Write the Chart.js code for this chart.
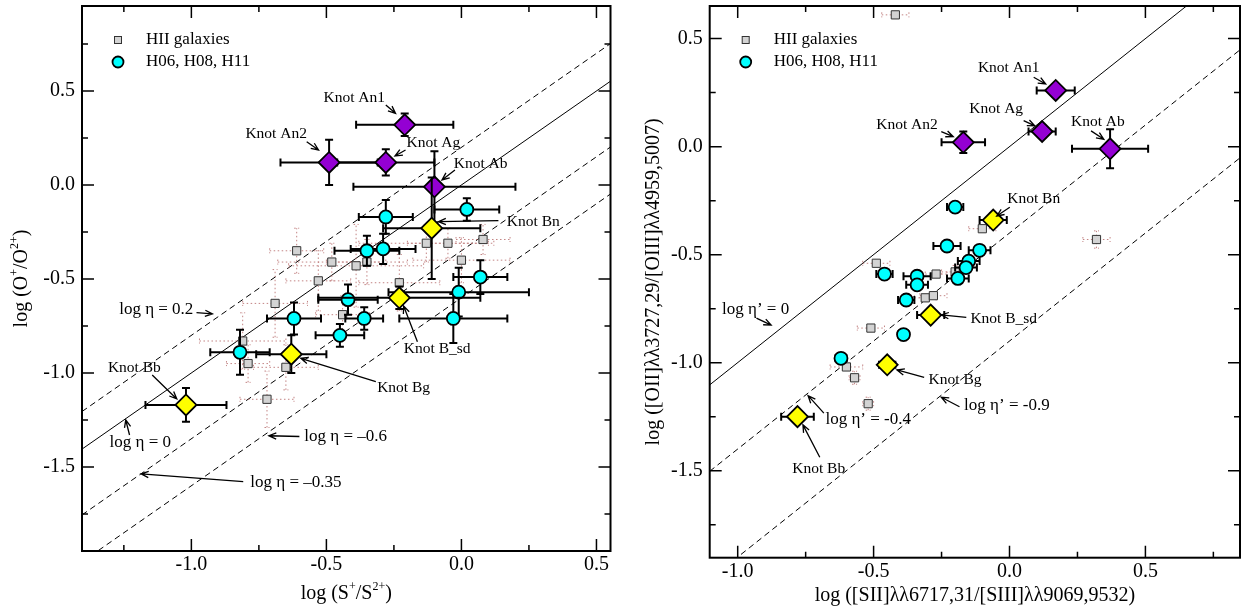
<!DOCTYPE html>
<html>
<head>
<meta charset="utf-8">
<script src="https://cdn.jsdelivr.net/npm/chart.js@4.4.1/dist/chart.umd.min.js"></script>
<style>
    html, body { margin: 0; padding: 0; background: #fff; }
    #wrap { position: relative; width: 1246px; height: 609px; overflow: hidden; }
    #leftChart { position: absolute; left: 0; top: 0; }
    #rightChart { position: absolute; left: 622px; top: 0; }
</style>
</head>
<body>
<div id="wrap">
    <canvas id="leftChart" width="620" height="609"></canvas>
    <canvas id="rightChart" width="624" height="609"></canvas>
</div>
<script>
// knots: An1, An2, Ag, Ab are region A (purple), Bn, B_sd, Bg, Bb region B (yellow)
const knotNames = ['Knot An1', 'Knot An2', 'Knot Ag', 'Knot Ab', 'Knot Bn', 'Knot B_sd', 'Knot Bg', 'Knot Bb'];
const knotRegion = ['A', 'A', 'A', 'A', 'B', 'B', 'B', 'B'];

// ---- left panel: log(O+/O2+) vs log(S+/S2+) ----
const leftKnotX = [-0.21, -0.49, -0.28, -0.10, -0.11, -0.23, -0.63, -1.02];
const leftKnotY = [0.32, 0.12, 0.12, -0.01, -0.23, -0.60, -0.90, -1.17];
const leftKnotXErr = [0.18, 0.18, 0.18, 0.30, 0.18, 0.30, 0.13, 0.15];
const leftKnotYErr = [0.06, 0.12, 0.07, 0.19, 0.27, 0.06, 0.10, 0.09];

const leftH06X = [-0.28, 0.02, -0.35, -0.29, 0.07, -0.01, -0.03, -0.42, -0.62, -0.36, -0.45, -0.82];
const leftH06Y = [-0.17, -0.13, -0.35, -0.34, -0.49, -0.57, -0.71, -0.61, -0.71, -0.71, -0.80, -0.89];
const leftH06XErr = [0.10, 0.12, 0.12, 0.12, 0.10, 0.26, 0.20, 0.11, 0.10, 0.07, 0.09, 0.11];
const leftH06YErr = [0.09, 0.06, 0.08, 0.08, 0.09, 0.13, 0.13, 0.08, 0.085, 0.06, 0.06, 0.12];

const leftHiiX = [-0.61, -0.48, -0.39, -0.35, -0.13, -0.05, 0.08, 0.00, -0.53, -0.23, -0.69, -0.44, -0.81, -0.79, -0.65, -0.72];
const leftHiiY = [-0.35, -0.41, -0.43, -0.41, -0.31, -0.31, -0.29, -0.40, -0.51, -0.52, -0.63, -0.69, -0.83, -0.95, -0.97, -1.14];
const leftHiiXErr = [0.10, 0.20, 0.25, 0.15, 0.25, 0.15, 0.10, 0.18, 0.12, 0.15, 0.12, 0.10, 0.16, 0.08, 0.12, 0.10];
const leftHiiYErr = [0.12, 0.10, 0.22, 0.12, 0.10, 0.08, 0.08, 0.12, 0.16, 0.15, 0.18, 0.10, 0.15, 0.10, 0.12, 0.15];

const leftEta = [0.2, 0, -0.35, -0.6];
const leftXTicks = [-1.0, -0.5, 0.0, 0.5];
const leftYTicks = [-1.5, -1.0, -0.5, 0.0, 0.5];

// ---- right panel: log([OII]/[OIII]) vs log([SII]/[SIII]) ----
const rightKnotX = [0.17, -0.17, 0.12, 0.37, -0.06, -0.29, -0.45, -0.78];
const rightKnotY = [0.26, 0.02, 0.07, -0.01, -0.34, -0.78, -1.01, -1.25];
const rightKnotXErr = [0.07, 0.08, 0.05, 0.14, 0.05, 0.05, 0.03, 0.06];
const rightKnotYErr = [0.03, 0.05, 0.03, 0.09, 0.03, 0.02, 0.02, 0.02];

const rightH06X = [-0.20, -0.23, -0.11, -0.15, -0.16, -0.46, -0.34, -0.34, -0.19, -0.38, -0.39, -0.62];
const rightH06Y = [-0.28, -0.46, -0.48, -0.53, -0.56, -0.59, -0.60, -0.64, -0.61, -0.71, -0.87, -0.98];
const rightH06XErr = [0.03, 0.05, 0.04, 0.04, 0.04, 0.03, 0.05, 0.04, 0.04, 0.03, 0.02, 0.02];
const rightH06YErr = [0.01, 0.01, 0.01, 0.01, 0.01, 0.01, 0.01, 0.01, 0.01, 0.01, 0.01, 0.01];

const rightHiiX = [-0.42, -0.10, 0.32, -0.49, -0.27, -0.20, -0.31, -0.28, -0.51, -0.60, -0.57, -0.52];
const rightHiiY = [0.61, -0.38, -0.43, -0.54, -0.59, -0.58, -0.70, -0.69, -0.84, -1.02, -1.07, -1.19];
const rightHiiXErr = [0.05, 0.05, 0.05, 0.05, 0.04, 0.05, 0.04, 0.05, 0.05, 0.06, 0.02, 0.02];
const rightHiiYErr = [0.01, 0.01, 0.04, 0.01, 0.01, 0.03, 0.01, 0.01, 0.01, 0.01, 0.03, 0.03];

const rightEta = [0, -0.4, -0.9];
const rightXTicks = [-1.0, -0.5, 0.0, 0.5];
const rightYTicks = [-1.5, -1.0, -0.5, 0.0, 0.5];

// labels + arrows, positions in data units (text x, y; arrow from -> to)
const leftNotes = [
    { t: 'Knot An1', x: -0.397, y: 0.461, al: 'center', a: [-0.280, 0.426, -0.244, 0.381] },
    { t: 'Knot An2', x: -0.686, y: 0.270, al: 'center', a: [-0.573, 0.230, -0.529, 0.186] },
    { t: 'Knot Ag', x: -0.104, y: 0.222, al: 'center', a: [-0.207, 0.186, -0.246, 0.154] },
    { t: 'Knot Ab', x: 0.071, y: 0.110, al: 'center', a: [-0.024, 0.080, -0.072, 0.027] },
    { t: 'Knot Bn', x: 0.157, y: -0.195, al: 'left', a: [0.137, -0.190, -0.085, -0.195] },
    { t: 'Knot B_sd', x: -0.090, y: -0.874, al: 'center', a: [-0.163, -0.834, -0.214, -0.644] },
    { t: 'Knot Bb', x: -1.211, y: -0.975, al: 'center', a: [-1.145, -1.011, -1.054, -1.138] },
    { t: 'Knot Bg', x: -0.214, y: -1.081, al: 'center', a: [-0.317, -1.046, -0.595, -0.922] },
    { t: 'log η = 0.2', x: -1.130, y: -0.661, al: 'center', eq: true, a: [-0.981, -0.679, -0.922, -0.686] },
    { t: 'log η = 0', x: -1.189, y: -1.371, al: 'center', eq: true, a: [-1.229, -1.330, -1.243, -1.250] },
    { t: 'log η = –0.6', x: -0.593, y: -1.339, al: 'left', eq: true, a: [-0.600, -1.338, -0.713, -1.334] },
    { t: 'log η = –0.35', x: -0.793, y: -1.584, al: 'left', eq: true, a: [-0.808, -1.578, -1.186, -1.537] }
];

const rightNotes = [
    { t: 'Knot An1', x: -0.003, y: 0.363, al: 'center', a: [0.089, 0.321, 0.133, 0.290] },
    { t: 'Knot Ag', x: -0.049, y: 0.173, al: 'center', a: [0.052, 0.120, 0.093, 0.096] },
    { t: 'Knot An2', x: -0.377, y: 0.100, al: 'center', a: [-0.251, 0.069, -0.207, 0.046] },
    { t: 'Knot Ab', x: 0.325, y: 0.113, al: 'center', a: [0.300, 0.073, 0.347, 0.034] },
    { t: 'Knot Bn', x: 0.089, y: -0.244, al: 'center', a: [0.001, -0.281, -0.047, -0.321] },
    { t: 'Knot B_sd', x: -0.155, y: -0.798, al: 'left', a: [-0.159, -0.790, -0.251, -0.779] },
    { t: 'Knot Bg', x: -0.309, y: -1.080, al: 'left', a: [-0.314, -1.068, -0.414, -1.034] },
    { t: 'Knot Bb', x: -0.702, y: -1.494, al: 'center', a: [-0.698, -1.438, -0.760, -1.288] },
    { t: 'log η’ = 0', x: -0.934, y: -0.753, al: 'center', eq: true, a: [-0.931, -0.794, -0.877, -0.826] },
    { t: 'log η’ = -0.9', x: -0.178, y: -1.200, al: 'left', eq: true, a: [-0.184, -1.204, -0.251, -1.160] },
    { t: 'log η’ = -0.4', x: -0.688, y: -1.262, al: 'left', eq: true, a: [-0.683, -1.234, -0.741, -1.153] }
];

const serif = '"Liberation Serif", "Times New Roman", serif';

function pts(xs, ys) {
    return xs.map((x, i) => ({ x: x, y: ys[i] }));
}

// error bars drawn just before the dataset they belong to
const errorBars = {
    id: 'errorBars',
    beforeDatasetDraw(chart, args) {
        const ds = chart.data.datasets[args.index];
        if (!ds.errX) return;
        const { ctx, chartArea: a } = chart;
        const sx = chart.scales.x, sy = chart.scales.y;
        ctx.save();
        ctx.beginPath();
        ctx.rect(a.left, a.top, a.width, a.height);
        ctx.clip();
        ctx.strokeStyle = ds.errColor;
        ctx.lineWidth = ds.errWidth;
        ctx.setLineDash(ds.errDash || []);
        const c = ds.capSize;
        ds.data.forEach((p, i) => {
            const cx = sx.getPixelForValue(p.x), cy = sy.getPixelForValue(p.y);
            const x0 = sx.getPixelForValue(p.x - ds.errX[i]), x1 = sx.getPixelForValue(p.x + ds.errX[i]);
            const y0 = sy.getPixelForValue(p.y - ds.errY[i]), y1 = sy.getPixelForValue(p.y + ds.errY[i]);
            ctx.beginPath();
            ctx.moveTo(x0, cy); ctx.lineTo(x1, cy);
            ctx.moveTo(cx, y0); ctx.lineTo(cx, y1);
            ctx.moveTo(x0, cy - c); ctx.lineTo(x0, cy + c);
            ctx.moveTo(x1, cy - c); ctx.lineTo(x1, cy + c);
            ctx.moveTo(cx - c, y0); ctx.lineTo(cx + c, y0);
            ctx.moveTo(cx - c, y1); ctx.lineTo(cx + c, y1);
            ctx.stroke();
        });
        ctx.restore();
    }
};

function drawArrow(ctx, x0, y0, x1, y1) {
    const ang = Math.atan2(y1 - y0, x1 - x0);
    const L = 8, w = 0.4;
    ctx.beginPath();
    ctx.moveTo(x0, y0);
    ctx.lineTo(x1, y1);
    ctx.moveTo(x1 - L * Math.cos(ang - w), y1 - L * Math.sin(ang - w));
    ctx.lineTo(x1, y1);
    ctx.lineTo(x1 - L * Math.cos(ang + w), y1 - L * Math.sin(ang + w));
    ctx.stroke();
}

const notesPlugin = {
    id: 'notes',
    afterDatasetsDraw(chart, args, opts) {
        const { ctx } = chart;
        const sx = chart.scales.x, sy = chart.scales.y;
        ctx.save();
        ctx.fillStyle = '#000';
        ctx.strokeStyle = '#000';
        ctx.lineWidth = 1.3;
        ctx.textBaseline = 'middle';
        opts.items.forEach(n => {
            ctx.font = (n.eq ? 17 : 15.5) + 'px ' + serif;
            ctx.textAlign = n.al;
            const tx = sx.getPixelForValue(n.x) + (n.al === 'left' ? 3 : 0);
            ctx.fillText(n.t, tx, sy.getPixelForValue(n.y));
            drawArrow(ctx, sx.getPixelForValue(n.a[0]), sy.getPixelForValue(n.a[1]),
                sx.getPixelForValue(n.a[2]), sy.getPixelForValue(n.a[3]));
        });
        ctx.restore();
    }
};

function drawRich(ctx, segs, cx, cy, size, rotate) {
    ctx.save();
    ctx.translate(cx, cy);
    if (rotate) ctx.rotate(-Math.PI / 2);
    const big = size + 'px ' + serif;
    const small = Math.round(size * 0.62) + 'px ' + serif;
    let w = 0;
    segs.forEach(s => { ctx.font = s.sup ? small : big; w += ctx.measureText(s.t).width; });
    let x = -w / 2;
    ctx.textBaseline = 'middle';
    ctx.textAlign = 'left';
    ctx.fillStyle = '#000';
    segs.forEach(s => {
        ctx.font = s.sup ? small : big;
        ctx.fillText(s.t, x, s.sup ? -size * 0.36 : 0);
        x += ctx.measureText(s.t).width;
    });
    ctx.restore();
}

// frame, inward ticks on all four sides, tick labels, axis titles and the legend box
const framePlugin = {
    id: 'frame',
    afterDraw(chart, args, opts) {
        const { ctx, chartArea: a } = chart;
        const sx = chart.scales.x, sy = chart.scales.y;
        ctx.save();
        ctx.strokeStyle = '#000';
        ctx.lineWidth = 1.5;
        ctx.beginPath();
        for (let k = Math.ceil(sx.min / 0.25); k * 0.25 <= sx.max + 1e-9; k++) {
            const p = sx.getPixelForValue(k * 0.25);
            const L = k % 2 === 0 ? 12 : 6;
            ctx.moveTo(p, a.bottom); ctx.lineTo(p, a.bottom - L);
            ctx.moveTo(p, a.top); ctx.lineTo(p, a.top + L);
        }
        for (let k = Math.ceil(sy.min / 0.25); k * 0.25 <= sy.max + 1e-9; k++) {
            const p = sy.getPixelForValue(k * 0.25);
            const L = k % 2 === 0 ? 12 : 6;
            ctx.moveTo(a.left, p); ctx.lineTo(a.left + L, p);
            ctx.moveTo(a.right, p); ctx.lineTo(a.right - L, p);
        }
        ctx.stroke();
        ctx.lineWidth = 2;
        ctx.strokeRect(a.left, a.top, a.width, a.height);

        // tick labels
        ctx.fillStyle = '#000';
        ctx.font = '20px ' + serif;
        ctx.textBaseline = 'middle';
        ctx.textAlign = 'center';
        sx.ticks.forEach(t => ctx.fillText(t.value.toFixed(1), sx.getPixelForValue(t.value), a.bottom + 14));
        ctx.textAlign = 'right';
        sy.ticks.forEach(t => ctx.fillText(t.value.toFixed(1), a.left - 7, sy.getPixelForValue(t.value)));

        // legend
        const lx = a.left + 36, ly1 = a.top + 34, ly2 = a.top + 56;
        ctx.lineWidth = 1;
        ctx.fillStyle = '#d3d3d3';
        ctx.strokeStyle = '#333';
        ctx.fillRect(lx - 3.5, ly1 - 3.5, 7, 7);
        ctx.strokeRect(lx - 3.5, ly1 - 3.5, 7, 7);
        ctx.beginPath();
        ctx.arc(lx, ly2, 5.5, 0, Math.PI * 2);
        ctx.fillStyle = '#00ffff';
        ctx.fill();
        ctx.lineWidth = 1.8;
        ctx.strokeStyle = '#000';
        ctx.stroke();
        ctx.fillStyle = '#000';
        ctx.font = '17px ' + serif;
        ctx.textBaseline = 'middle';
        ctx.textAlign = 'left';
        ctx.fillText('HII galaxies', a.left + 64, ly1);
        ctx.fillText('H06, H08, H11', a.left + 64, ly2);
        ctx.restore();

        drawRich(ctx, opts.xTitle, (a.left + a.right) / 2, opts.xTitleY, 20, false);
        drawRich(ctx, opts.yTitle, opts.yTitleX, (a.top + a.bottom) / 2, 20, true);
    }
};

function makePanel(canvasId, p) {
    const datasets = [];
    p.eta.forEach(c => {
        datasets.push({
            data: [{ x: p.xMin, y: p.xMin + c }, { x: p.xMax, y: p.xMax + c }],
            showLine: true,
            borderColor: '#000',
            borderWidth: 1,
            borderDash: c === 0 ? [] : [6, 4],
            pointRadius: 0,
            clip: 0,
            order: 10
        });
    });
    datasets.push({
        label: 'HII galaxies',
        data: pts(p.hiiX, p.hiiY),
        pointStyle: 'rect',
        pointRadius: 5.8,
        backgroundColor: '#d3d3d3',
        borderColor: '#333333',
        borderWidth: 1,
        errX: p.hiiXErr, errY: p.hiiYErr,
        errColor: 'rgba(185, 110, 110, 0.85)', errWidth: 1, errDash: [1.5, 2.5], capSize: 2.5,
        order: 4
    });
    datasets.push({
        label: 'H06, H08, H11',
        data: pts(p.h06X, p.h06Y),
        pointStyle: 'circle',
        pointRadius: 6.5,
        backgroundColor: '#00ffff',
        borderColor: '#000',
        borderWidth: 1.8,
        errX: p.h06XErr, errY: p.h06YErr,
        errColor: '#000', errWidth: 2, capSize: 4,
        order: 3
    });
    ['A', 'B'].forEach((reg, j) => {
        const idx = knotRegion.map((r, i) => r === reg ? i : -1).filter(i => i >= 0);
        datasets.push({
            label: 'Region ' + reg,
            data: idx.map(i => ({ x: p.knotX[i], y: p.knotY[i] })),
            pointStyle: 'rectRot',
            pointRadius: 10.5,
            backgroundColor: reg === 'A' ? '#9400d3' : '#ffff00',
            borderColor: '#000',
            borderWidth: 1.8,
            errX: idx.map(i => p.knotXErr[i]), errY: idx.map(i => p.knotYErr[i]),
            errColor: '#000', errWidth: 2, capSize: 4,
            order: 2 - j
        });
    });

    return new Chart(document.getElementById(canvasId), {
        type: 'scatter',
        data: { datasets: datasets },
        plugins: [errorBars, notesPlugin, framePlugin],
        options: {
            responsive: false,
            animation: false,
            events: [],
            layout: { autoPadding: false, padding: { top: 6, right: p.padRight, left: 0, bottom: 0 } },
            scales: {
                x: {
                    type: 'linear', min: p.xMin, max: p.xMax,
                    grid: { display: false, drawTicks: false },
                    border: { display: false },
                    afterBuildTicks: s => { s.ticks = p.xTicks.map(v => ({ value: v })); },
                    afterFit: s => { s.height = p.xAxisH; },
                    ticks: { display: false }
                },
                y: {
                    type: 'linear', min: p.yMin, max: p.yMax,
                    grid: { display: false, drawTicks: false },
                    border: { display: false },
                    afterBuildTicks: s => { s.ticks = p.yTicks.map(v => ({ value: v })); },
                    afterFit: s => { s.width = p.yAxisW; },
                    ticks: { display: false }
                }
            },
            plugins: {
                legend: { display: false },
                tooltip: { enabled: false },
                notes: { items: p.notes },
                frame: { xTitle: p.xTitle, yTitle: p.yTitle, xTitleY: p.xTitleY, yTitleX: p.yTitleX }
            }
        }
    });
}

makePanel('leftChart', {
    xMin: -1.405, xMax: 0.552, yMin: -1.947, yMax: 0.952,
    xTicks: leftXTicks, yTicks: leftYTicks,
    knotX: leftKnotX, knotY: leftKnotY, knotXErr: leftKnotXErr, knotYErr: leftKnotYErr,
    h06X: leftH06X, h06Y: leftH06Y, h06XErr: leftH06XErr, h06YErr: leftH06YErr,
    hiiX: leftHiiX, hiiY: leftHiiY, hiiXErr: leftHiiXErr, hiiYErr: leftHiiYErr,
    eta: leftEta, notes: leftNotes,
    padRight: 9.5, yAxisW: 82, xAxisH: 58,
    xTitle: [{ t: 'log (S' }, { t: '+', sup: true }, { t: '/S' }, { t: '2+', sup: true }, { t: ')' }],
    yTitle: [{ t: 'log (O' }, { t: '+', sup: true }, { t: '/O' }, { t: '2+', sup: true }, { t: ')' }],
    xTitleY: 594, yTitleX: 22
});

makePanel('rightChart', {
    xMin: -1.103, xMax: 0.848, yMin: -1.903, yMax: 0.651,
    xTicks: rightXTicks, yTicks: rightYTicks,
    knotX: rightKnotX, knotY: rightKnotY, knotXErr: rightKnotXErr, knotYErr: rightKnotYErr,
    h06X: rightH06X, h06Y: rightH06Y, h06XErr: rightH06XErr, h06YErr: rightH06YErr,
    hiiX: rightHiiX, hiiY: rightHiiY, hiiXErr: rightHiiXErr, hiiYErr: rightHiiYErr,
    eta: rightEta, notes: rightNotes,
    padRight: 6, yAxisW: 87.7, xAxisH: 51.3,
    xTitle: [{ t: 'log ([SII]λλ6717,31/[SIII]λλ9069,9532)' }],
    yTitle: [{ t: 'log ([OII]λλ3727,29/[OIII]λλ4959,5007)' }],
    xTitleY: 596, yTitleX: 32
});
</script>
</body>
</html>
